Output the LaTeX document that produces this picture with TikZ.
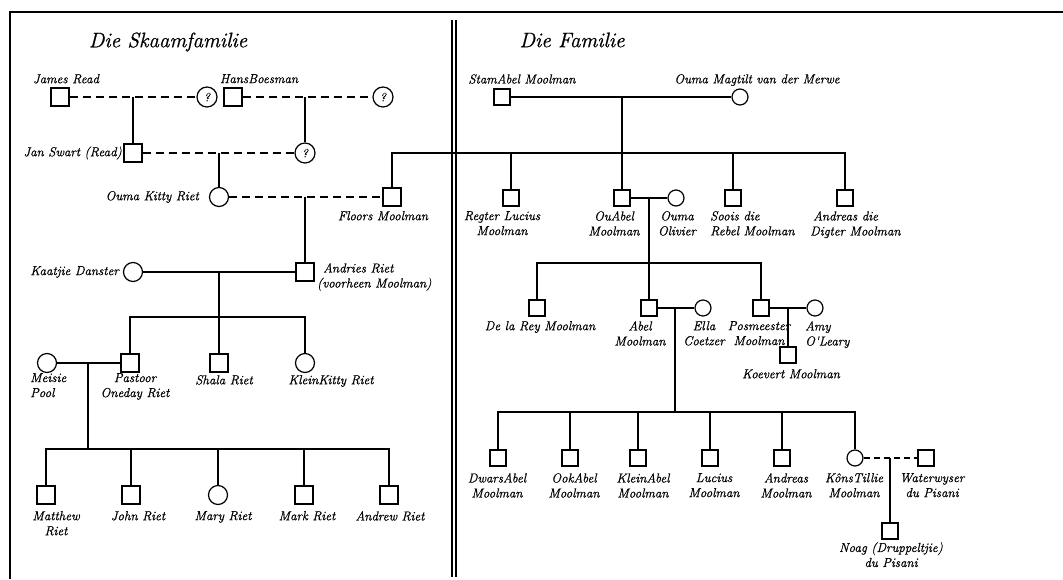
\documentclass[tikz,border=0pt]{standalone}
\usepackage{fontspec}
\newfontfamily\labfont{Latin Modern Roman}[ItalicFeatures={FakeBold=0.8}]
\usetikzlibrary{calc}
\tikzset{
  ln/.style={line width=1.3pt},
  dsh/.style={line width=1.3pt, dash pattern=on 8pt off 5pt},
  dshR/.style={line width=1.3pt, dash pattern=on 6pt off 4pt},
  sqL/.style={draw, line width=1.2pt, rectangle, minimum size=18pt, inner sep=0pt},
  fcL/.style={draw, line width=1.2pt, circle, minimum size=19pt, inner sep=0pt},
  qc/.style={draw, line width=1.2pt, circle, minimum size=20pt, inner sep=0pt, font=\labfont\fontsize{12}{12}\selectfont\itshape},
  sqR/.style={draw, line width=1.2pt, rectangle, minimum size=16pt, inner sep=0pt},
  fcR/.style={draw, line width=1.2pt, circle, minimum size=16pt, inner sep=0pt},
  lab/.style={font=\labfont\fontsize{13}{15}\selectfont\itshape, inner sep=0pt, align=center},
  ttl/.style={font=\labfont\fontsize{21}{24}\selectfont\itshape, inner sep=0pt}
}
\begin{document}
\begin{tikzpicture}[x=1pt,y=-1pt]
\useasboundingbox (0,0) rectangle (1063,579);
\fill[white] (0,0) rectangle (1063,579);
% frame
\draw[line width=1.8pt] (1063,12) -- (10,12) -- (10,579);
\draw[line width=1.1pt] (452,20) -- (452,577);
\draw[line width=1.1pt] (456,20) -- (456,577);
% titles
\node[ttl] (t1) at (168,42) {Die Skaamfamilie};
\node[ttl] (t2) at (572,40) {Die Familie};

% ---------- left panel ----------
\node[sqL] (JR) at (60,97) {};
\node[qc] (Q1) at (207,97) {?};
\node[sqL] (HB) at (233,97) {};
\node[qc] (Q2) at (383,97) {?};
\node[sqL] (JS) at (133,153) {};
\node[qc] (Q3) at (305,153) {?};
\node[fcL] (OKR) at (219,197) {};
\node[sqL] (FM) at (392,197) {};
\node[fcL] (KD) at (133,272) {};
\node[sqL] (AR) at (305,272) {};
\node[fcL] (MP) at (47,363) {};
\node[sqL] (PR) at (130,363) {};
\node[sqL] (SR) at (219,363) {};
\node[fcL] (KK) at (305,363) {};
\node[sqL] (MR) at (46,495) {};
\node[sqL] (JoR) at (131,495) {};
\node[fcL] (MaR) at (218,495) {};
\node[sqL] (MkR) at (304,495) {};
\node[sqL] (AnR) at (389,495) {};

\draw[dsh] (JR) -- (Q1);
\draw[ln] (JS) -- (JS |- JR);
\draw[dsh] (HB) -- (Q2);
\draw[ln] (Q3) -- (Q3 |- HB);
\draw[dsh] (JS) -- (Q3);
\draw[ln] (OKR) -- (OKR |- JS);
\draw[dsh] (OKR) -- (FM);
\draw[ln] (AR) -- (AR |- FM);
\draw[ln] (KD) -- (AR);
\draw[ln] (SR) -- (SR |- KD);
\coordinate (g2) at (219,317);
\draw[ln] (PR) |- (g2) -| (KK);
\draw[ln] (MP) -- (PR);
\coordinate (j3) at (88,363);
\coordinate (g3) at (88,449);
\draw[ln] (j3) -- (g3);
\draw[ln] (MR) |- (g3) -| (AnR);
\foreach \n in {JoR,MaR,MkR} \draw[ln] (\n) -- (\n |- g3);

\node[lab, anchor=north] (lJR) at (66,74) {James Read};
\node[lab, anchor=north] (lHB) at (259,74) {HansBoesman};
\node[lab, anchor=east] (lJS) at (122,153) {Jan Swart (Read)};
\node[lab, anchor=east] (lOKR) at (199,197) {Ouma Kitty Riet};
\node[lab, anchor=north] (lFM) at (383,211) {Floors Moolman};
\node[lab, anchor=east] (lKD) at (119,272) {Kaatjie Danster};
\node[lab, anchor=north west, align=left] (lAR) at (317,263) {\hspace*{6pt}Andries Riet\\(voorheen Moolman)};
\node[lab, anchor=north west, align=left] (lMP) at (30,373) {Meisie\\Pool};
\node[lab, anchor=north] (lPR) at (135,373) {Pastoor\\Oneday Riet};
\node[lab, anchor=north] (lSR) at (224,375) {Shala Riet};
\node[lab, anchor=north] (lKK) at (331,375) {KleinKitty Riet};
\node[lab, anchor=north] (lMR) at (56,511) {Matthew\\Riet};
\node[lab, anchor=north] (lJoR) at (138,511) {John Riet};
\node[lab, anchor=north] (lMaR) at (223,511) {Mary Riet};
\node[lab, anchor=north] (lMkR) at (307,511) {Mark Riet};
\node[lab, anchor=north] (lAnR) at (390,511) {Andrew Riet};

% ---------- right panel ----------
\node[sqR] (SA) at (502,97) {};
\node[fcR] (OM) at (740,97) {};
\draw[ln] (SA) -- (OM);
\node[sqR] (RL) at (511,198) {};
\node[sqR] (OA) at (622,198) {};
\node[fcR] (OO) at (676,198) {};
\node[sqR] (SD) at (733,198) {};
\node[sqR] (AdD) at (845,198) {};
\draw[ln] (OA) -- (OA |- SA);
\coordinate (g1) at (622,153);
\draw[ln] (FM) |- (g1) -| (AdD);
\draw[ln] (RL) -- (RL |- g1);
\draw[ln] (SD) -- (SD |- g1);
\draw[ln] (OA) -- (OO);

\node[sqR] (DR) at (537,308) {};
\node[sqR] (AB) at (649,308) {};
\node[fcR] (EC) at (703,308) {};
\node[sqR] (PM) at (761,308) {};
\node[fcR] (AO) at (815,308) {};
\node[sqR] (KM) at (788,355) {};
\coordinate (j4) at (649,198);
\coordinate (g4) at (649,263);
\draw[ln] (j4) -- (AB);
\draw[ln] (DR) |- (g4) -| (PM);
\draw[ln] (AB) -- (EC);
\draw[ln] (PM) -- (AO);
\draw[ln] (KM) -- (KM |- PM);

\node[sqR] (DA) at (498,458) {};
\node[sqR] (OkA) at (570,458) {};
\node[sqR] (KA) at (638,458) {};
\node[sqR] (LMo) at (710,458) {};
\node[sqR] (AM) at (782,458) {};
\node[fcR] (KT) at (855,458) {};
\node[sqR] (WP) at (926,458) {};
\node[sqR] (NP) at (890,531) {};
\coordinate (j5) at (675,308);
\coordinate (g5) at (675,412);
\draw[ln] (j5) -- (g5);
\draw[ln] (DA) |- (g5) -| (KT);
\foreach \n in {OkA,KA,LMo,AM} \draw[ln] (\n) -- (\n |- g5);
\draw[dshR] (KT) -- (WP);
\draw[ln] (NP) -- (NP |- KT);

\node[lab, anchor=north] (lSA) at (522,74) {StamAbel Moolman};
\node[lab, anchor=north] (lOM) at (757,74) {Ouma Magtilt van der Merwe};
\node[lab, anchor=north] (lRL) at (502,211) {Regter Lucius\\Moolman};
\node[lab, anchor=north] (lOA) at (614,211) {OuAbel\\Moolman};
\node[lab, anchor=north] (lOO) at (677,211) {Ouma\\Olivier};
\node[lab, anchor=north west, align=left] (lSD) at (710,211) {Soois die\\Rebel Moolman};
\node[lab, anchor=north west, align=left] (lAdD) at (810,211) {\hspace*{3pt}Andreas die\\Digter Moolman};
\node[lab, anchor=north] (lDR) at (540,321) {De la Rey Moolman};
\node[lab, anchor=north] (lAB) at (640,321) {Abel\\Moolman};
\node[lab, anchor=north] (lEC) at (704,321) {Ella\\Coetzer};
\node[lab, anchor=north] (lPM) at (759,321) {Posmeester\\Moolman};
\node[lab, anchor=north west, align=left] (lAO) at (805,321) {Amy\\O'Leary};
\node[lab, anchor=north] (lKM) at (791,369) {Koevert Moolman};
\node[lab, anchor=north] (lDA) at (497,473) {DwarsAbel\\Moolman};
\node[lab, anchor=north] (lOkA) at (574,473) {OokAbel\\Moolman};
\node[lab, anchor=north] (lKA) at (643,473) {KleinAbel\\Moolman};
\node[lab, anchor=north] (lLMo) at (714,473) {Lucius\\Moolman};
\node[lab, anchor=north] (lAM) at (786,473) {Andreas\\Moolman};
\node[lab, anchor=north] (lKT) at (854,473) {KônsTillie\\Moolman};
\node[lab, anchor=north] (lWP) at (932,473) {Waterwyser\\du Pisani};
\node[lab, anchor=north] (lNP) at (891,542) {Noag (Druppeltjie)\\du Pisani};
\end{tikzpicture}
\end{document}
